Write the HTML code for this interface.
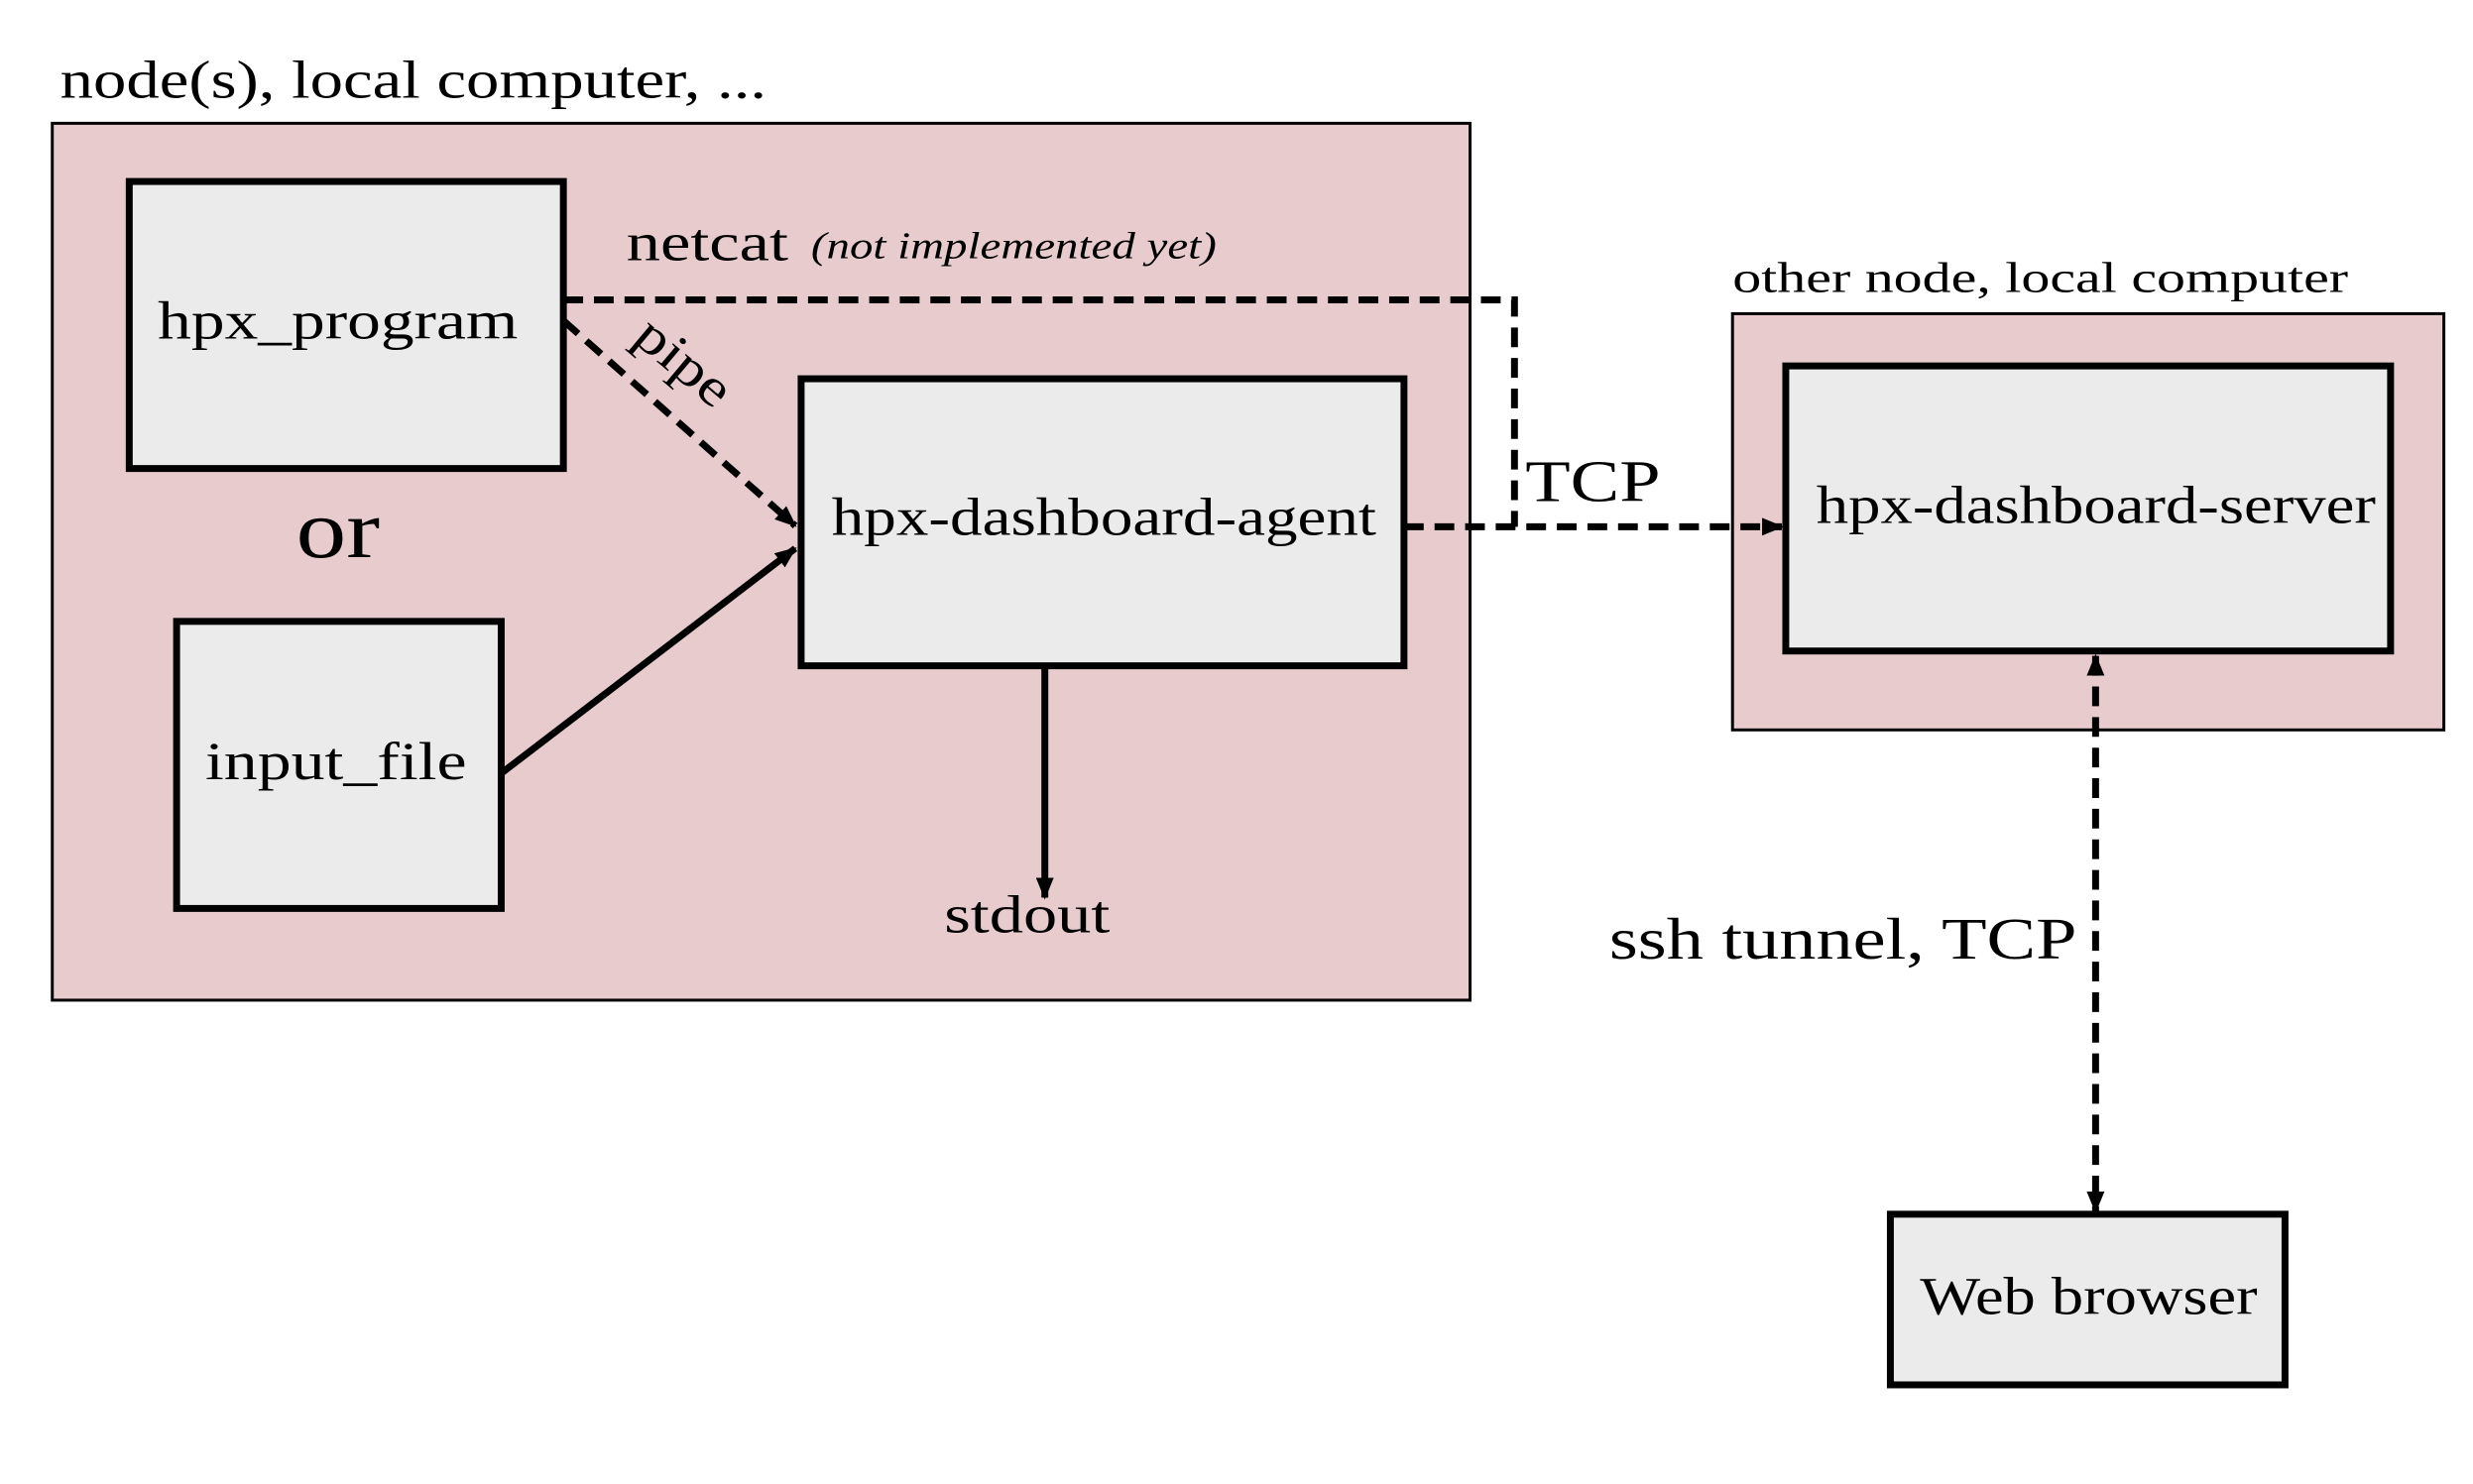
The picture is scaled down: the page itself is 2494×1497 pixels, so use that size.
<!DOCTYPE html>
<html><head><meta charset="utf-8"><style>html,body{margin:0;padding:0;background:#fff}svg{display:block}</style></head>
<body>
<svg width="2494" height="1497" viewBox="0 0 2494 1497" xmlns="http://www.w3.org/2000/svg" font-family="'Liberation Serif', serif" fill="#000">
<defs>
<marker id="a2" markerWidth="22" markerHeight="18" refX="20" refY="9" orient="auto-start-reverse" markerUnits="userSpaceOnUse"><path d="M0,0 L22,9 L0,18 z"/></marker>
</defs>
<rect width="2494" height="1497" fill="#fff"/>
<g transform="scale(0.995)">
<text x="61" y="99" font-size="54" textLength="716" lengthAdjust="spacingAndGlyphs">node(s), local computer, ...</text>
<rect x="53" y="125" width="1437" height="889" fill="#e8cbcd" stroke="#000" stroke-width="3"/>
<rect x="1756" y="318" width="721" height="422" fill="#e8cbcd" stroke="#000" stroke-width="3"/>
<text x="1756" y="296" font-size="44" textLength="624" lengthAdjust="spacingAndGlyphs">other node, local computer</text>

<g stroke="#000" stroke-width="7" fill="#ebebeb">
<rect x="131" y="184" width="440" height="291"/>
<rect x="179" y="630" width="329" height="291"/>
<rect x="812" y="384" width="611" height="291"/>
<rect x="1810" y="371" width="613" height="289"/>
<rect x="1916" y="1231" width="400" height="173"/>
</g>

<g font-size="54">
<text x="160" y="343" textLength="365" lengthAdjust="spacingAndGlyphs">hpx_program</text>
<text x="208" y="790" textLength="265" lengthAdjust="spacingAndGlyphs">input_file</text>
<text x="843" y="542" textLength="552" lengthAdjust="spacingAndGlyphs">hpx-dashboard-agent</text>
<text x="1841" y="530" textLength="567" lengthAdjust="spacingAndGlyphs">hpx-dashboard-server</text>
<text x="1946" y="1332" textLength="342" lengthAdjust="spacingAndGlyphs">Web browser</text>
<text x="957" y="945" textLength="168" lengthAdjust="spacingAndGlyphs">stdout</text>
<text x="635" y="264" textLength="164" lengthAdjust="spacingAndGlyphs">netcat</text>
<text x="1631" y="972" font-size="60" textLength="474" lengthAdjust="spacingAndGlyphs">ssh tunnel, TCP</text>
<text x="1546" y="508" font-size="60" textLength="137" lengthAdjust="spacingAndGlyphs">TCP</text>
</g>
<text x="822" y="262" font-size="38" font-style="italic" textLength="411" lengthAdjust="spacingAndGlyphs">(not implemented yet)</text>
<text x="300" y="565" font-size="84" textLength="85" lengthAdjust="spacingAndGlyphs">or</text>
<text x="0" y="0" font-size="54" transform="translate(640,345) rotate(40)" textLength="110" lengthAdjust="spacingAndGlyphs">pipe</text>

<g stroke="#000" stroke-width="7" fill="none">
<polyline points="571,304 1535,304 1535,534" stroke-dasharray="20,11"/>
<line x1="1423" y1="534" x2="1806" y2="534" stroke-dasharray="20,11" marker-end="url(#a2)"/>
<line x1="571" y1="325" x2="806" y2="533" stroke-dasharray="20,11" marker-end="url(#a2)"/>
<line x1="508" y1="784" x2="806" y2="556" marker-end="url(#a2)"/>
<line x1="1059" y1="675" x2="1059" y2="910" marker-end="url(#a2)"/>
<line x1="2124" y1="665" x2="2124" y2="1228" stroke-dasharray="20,11" marker-start="url(#a2)" marker-end="url(#a2)"/>
</g>
</g>
</svg>
</body></html>
